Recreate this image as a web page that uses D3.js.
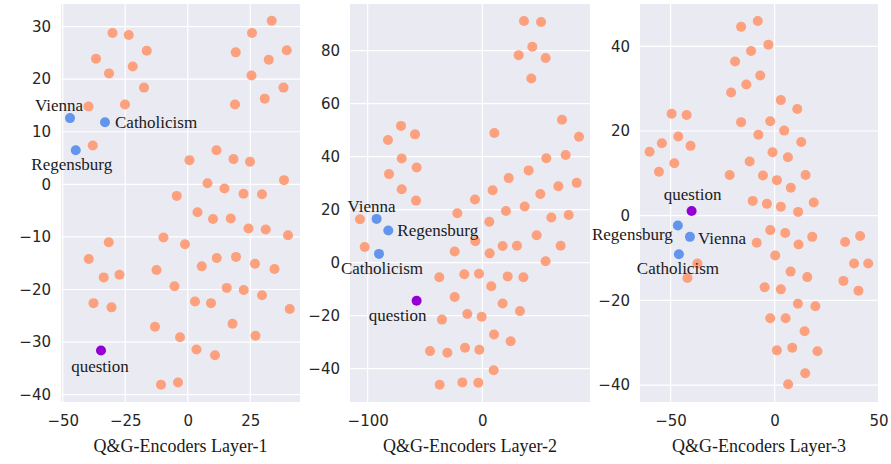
<!DOCTYPE html>
<html>
<head>
<meta charset="utf-8">
<script src="https://cdn.jsdelivr.net/npm/d3@7"></script>
<style>
  body { margin: 0; background: #fff; }
  .tick text { font-family: "DejaVu Sans", sans-serif; font-size: 15px; fill: #262626; }
  text.lbl { font-family: "Liberation Serif", Tinos, "DejaVu Serif", serif; fill: #1a1a1a; }
</style>
</head>
<body>
<svg id="chart" width="891" height="464"></svg>
<script>
// Layer-1 points [x, y]
const layer1Others = [
  [-30.1,28.8],[-23.6,28.4],[-16.4,25.4],[-36.7,23.9],[-22,22.4],[-31.5,21.1],[-17.5,18.4],
  [-39.7,14.8],[-25.1,15.2],[-38,7.4],[33.6,31.1],[25.7,28.8],[19.2,25.1],[39.6,25.5],
  [32.4,23.7],[25.5,20.7],[38.3,18.4],[30.8,16.3],[18.9,15.2],[11.5,6.5],[0.7,4.6],
  [18.3,4.8],[24.9,4.3],[38.5,0.8],[7.9,0.2],[14.7,-0.8],[22.3,-1.8],[29.7,-1.9],
  [-4.4,-2.2],[3.9,-5.3],[10.1,-6.6],[17.2,-6.5],[24.3,-8.4],[31.2,-8.6],[40.1,-9.7],
  [-9.7,-10.1],[-1.1,-11.4],[-31.6,-11],[-39.6,-14.2],[-33.6,-17.7],[-27.3,-17.2],
  [-12.5,-16.3],[5.6,-15.6],[11.6,-14],[19.3,-13.8],[26.9,-15.1],[34.7,-16.1],
  [-5.3,-19.4],[15.6,-19.7],[22.4,-20.1],[29.7,-21.1],[-37.7,-22.6],[-30.5,-23.4],
  [2.9,-22.3],[9.3,-22.6],[40.8,-23.7],[-13.1,-27.1],[17.9,-26.5],[27.1,-28.8],
  [-3.1,-29.1],[3.5,-31.4],[10.9,-32.5],[-10.7,-38.1],[-3.9,-37.7]
];
const layer1Named = [
  {name: "Vienna", x: -47.1, y: 12.6},
  {name: "Catholicism", x: -33.1, y: 11.8},
  {name: "Regensburg", x: -44.8, y: 6.5},
  {name: "question", x: -34.7, y: -31.6}
];

const layer2Others = [
  [36.3,91.2],[51.2,90.8],[43.6,81.5],[31.7,78.3],[55.2,77.2],[42.7,69.5],[69.5,53.9],
  [84.3,47.5],[10.5,48.9],[-70.9,51.6],[-82.3,46.3],[-58.7,48.4],[-70.3,39.3],[-81.4,33.4],
  [-57.3,35.9],[-70.3,27.7],[-57.8,23.4],[-106.7,16.4],[-102.6,5.9],[55.8,39.4],[72.7,40.6],
  [40.4,34.8],[23,31.9],[82.3,30.1],[66.3,28.8],[50.6,25.9],[9,27.3],[-6.4,23.8],
  [-21.8,18.6],[20.6,19.5],[36.9,21.2],[60.2,17],[75.3,18],[6.1,15.4],[47.4,10.3],
  [-6.1,8.1],[-24.1,4.2],[6.4,3.5],[17.7,6.3],[30.2,6.4],[68.3,6.4],[55.2,0.5],
  [-37.5,-5.5],[-15.7,-4.4],[-2.9,-4.2],[22.1,-5.2],[35.8,-5.5],[7.8,-8.9],[-24.1,-13],
  [17.7,-15.4],[32.8,-18.3],[-35.2,-21.5],[-13.1,-19.4],[-0.6,-20.4],[10.2,-27.1],
  [24.7,-29.7],[-45.6,-33.4],[-30.5,-34],[-15.1,-32.1],[-2.6,-32.9],[9.9,-40.6],
  [-37.2,-46.1],[-17.4,-45.2],[-3.5,-45.3]
];
const layer2Named = [
  {name: "Vienna", x: -92.2, y: 16.5},
  {name: "Regensburg", x: -82, y: 12.1},
  {name: "Catholicism", x: -90.1, y: 3.3},
  {name: "question", x: -57.3, y: -14.4}
];

const layer3Others = [
  [-8.1,46],[-16.1,44.6],[-3,40.4],[-11.3,38.9],[-19,36.4],[-6.9,33.1],[-13.6,31],
  [-20.9,29.1],[3,27.3],[10.9,25.2],[-49.5,24.1],[-42.3,23.8],[-16.1,22.1],[-2.1,22.3],
  [4.6,20.1],[-46.3,18.7],[-54.2,17.1],[-40.4,16.5],[-60.1,15.1],[-7.8,19.1],[12.8,17.4],
  [-1,15],[6.4,13.8],[-12,12.8],[-48.2,12.4],[-55.6,10.4],[-21.6,9.6],[-5.6,9.5],
  [14.9,9.6],[1.1,8.4],[7.8,6.6],[-10.5,3.5],[-3.7,2.8],[3,2.1],[18.8,3.1],[11.3,0.9],
  [-2.1,-3.4],[5.1,-4.1],[-8.6,-6.4],[11.5,-6.8],[18.1,-5],[33.9,-6.2],[41.1,-4.8],
  [0.3,-9.4],[-37.1,-11.3],[38.2,-11.3],[45,-11.3],[-41.9,-14.7],[7.7,-13.2],[15.7,-14.5],
  [33.1,-15.4],[40.3,-17.7],[-4.8,-16.9],[3,-17.4],[11.2,-20.8],[19.6,-21.4],[-2.1,-24.2],
  [5.3,-24.2],[14.4,-27.3],[1.1,-31.8],[8.5,-31.2],[20.6,-32],[14.7,-37.2],[6.5,-39.8]
];
const layer3Named = [
  {name: "question", x: -39.9, y: 1.1},
  {name: "Regensburg", x: -46.5, y: -2.3},
  {name: "Vienna", x: -40.7, y: -5},
  {name: "Catholicism", x: -46, y: -9.1}
];

const panels = [
  {title: "Q&G-Encoders Layer-1", others: layer1Others, named: layer1Named,
   left: 61, right: 300, xDomain: [-50.7, 44.9], yDomain: [-41.4, 34.3],
   xTicks: [-50, -25, 0, 25], yTicks: [-40, -30, -20, -10, 0, 10, 20, 30],
   labels: {Vienna: ["end", 13, -7], Catholicism: ["start", 10, 6], Regensburg: ["middle", -4, 20], question: ["middle", -1, 22]}},
  {title: "Q&G-Encoders Layer-2", others: layer2Others, named: layer2Named,
   left: 350, right: 590, xDomain: [-115.4, 93.9], yDomain: [-52.6, 97.6],
   xTicks: [-100, 0], yTicks: [-40, -20, 0, 20, 40, 60, 80],
   labels: {Vienna: ["middle", -5, -7], Regensburg: ["start", 9, 5], Catholicism: ["middle", 3, 20], question: ["middle", -19, 20]}},
  {title: "Q&G-Encoders Layer-3", others: layer3Others, named: layer3Named,
   left: 640, right: 878, xDomain: [-64.7, 49.7], yDomain: [-44, 50],
   xTicks: [-50, 0, 50], yTicks: [-40, -20, 0, 20, 40],
   labels: {question: ["middle", 1, -11], Regensburg: ["end", -5, 15], Vienna: ["start", 8, 7], Catholicism: ["middle", -1, 20]}}
];

const plotTop = 4, plotBottom = 402;
const svg = d3.select("#chart");

panels.forEach(p => {
  const x = d3.scaleLinear().domain(p.xDomain).range([p.left, p.right]);
  const y = d3.scaleLinear().domain(p.yDomain).range([plotBottom, plotTop]);
  const g = svg.append("g");

  g.append("rect")
    .attr("x", p.left).attr("y", plotTop)
    .attr("width", p.right - p.left).attr("height", plotBottom - plotTop)
    .attr("fill", "#EAEAF2");

  // grid
  g.selectAll(".vg").data(p.xTicks).enter().append("line")
    .attr("x1", d => x(d)).attr("x2", d => x(d)).attr("y1", plotTop).attr("y2", plotBottom)
    .attr("stroke", "#fff").attr("stroke-width", 1.2);
  g.selectAll(".hg").data(p.yTicks).enter().append("line")
    .attr("y1", d => y(d)).attr("y2", d => y(d)).attr("x1", p.left).attr("x2", p.right)
    .attr("stroke", "#fff").attr("stroke-width", 1.2);

  // axes
  const xa = g.append("g").attr("transform", `translate(0,${plotBottom})`)
    .call(d3.axisBottom(x).tickValues(p.xTicks).tickSize(0).tickPadding(13).tickFormat(d3.format("d")));
  const ya = g.append("g").attr("transform", `translate(${p.left},0)`)
    .call(d3.axisLeft(y).tickValues(p.yTicks).tickSize(0).tickPadding(10).tickFormat(d3.format("d")));
  [xa, ya].forEach(a => a.select(".domain").remove());

  g.selectAll(".pt").data(p.others).enter().append("circle")
    .attr("cx", d => x(d[0])).attr("cy", d => y(d[1])).attr("r", 5)
    .attr("fill", "#FCA07E");

  g.selectAll(".np").data(p.named).enter().append("circle")
    .attr("cx", d => x(d.x)).attr("cy", d => y(d.y)).attr("r", 5)
    .attr("fill", d => d.name === "question" ? "#9400D3" : "#6495ED");

  g.selectAll(".lb").data(p.named).enter().append("text")
    .attr("class", "lbl")
    .style("font-family", "'Liberation Serif', 'DejaVu Serif', serif")
    .attr("x", d => x(d.x) + p.labels[d.name][1])
    .attr("y", d => y(d.y) + p.labels[d.name][2])
    .attr("text-anchor", d => p.labels[d.name][0])
    .attr("font-size", 17)
    .text(d => d.name);

  g.append("text")
    .attr("class", "lbl")
    .style("font-family", "'Liberation Serif', 'DejaVu Serif', serif")
    .attr("x", (p.left + p.right) / 2).attr("y", 452)
    .attr("text-anchor", "middle")
    .attr("font-size", 18)
    .text(p.title);
});
</script>
</body>
</html>
